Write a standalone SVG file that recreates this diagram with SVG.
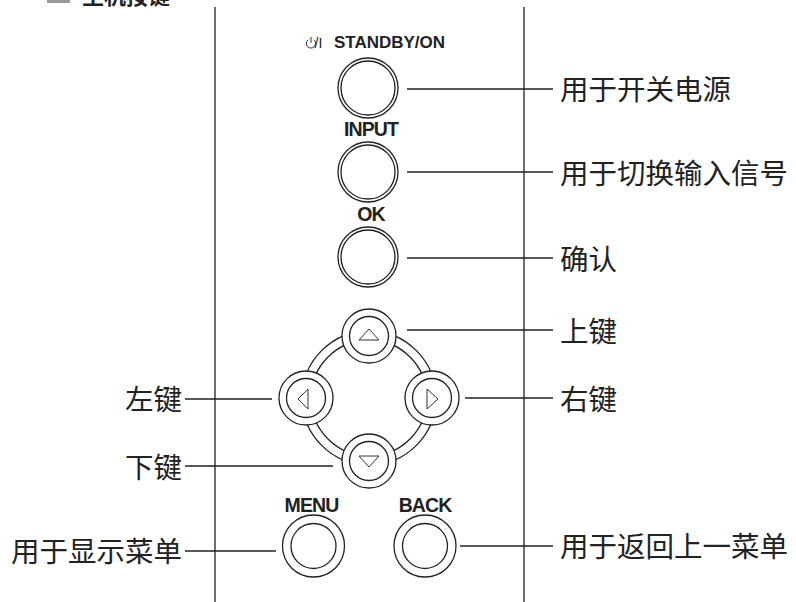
<svg xmlns="http://www.w3.org/2000/svg" width="796" height="602" viewBox="0 0 796 602">
<style>
.ln{stroke:#222;stroke-width:1.3;fill:none}
.c{stroke:#222;stroke-width:1.3;fill:#fff}
.ci{stroke:#222;stroke-width:1.3;fill:none}
.tri{stroke:#333;stroke-width:1;fill:none;stroke-linejoin:miter}
.cn{font-family:"Noto Sans CJK SC","Noto Sans",sans-serif;font-size:28.5px;fill:#222}
.en{font-family:"Liberation Sans",Arial,sans-serif;font-weight:bold;font-size:19.5px;fill:#222;text-anchor:middle;letter-spacing:-0.9px}
</style>
<rect width="796" height="602" fill="#fff"/>
<g id="heading">
<rect x="47" y="0" width="23" height="3" fill="#999"/>
<text x="82" y="4" font-family="Noto Sans CJK SC,sans-serif" font-weight="bold" font-size="22" fill="#222">主机按键</text>
</g>
<g id="panel">
<line class="ln" x1="215" y1="7" x2="215" y2="602"/>
<line class="ln" x1="524" y1="7" x2="524" y2="602"/>
</g>
<g id="connectors">
<line class="ln" x1="407" y1="89" x2="553" y2="89"/>
<line class="ln" x1="407" y1="172" x2="553" y2="172"/>
<line class="ln" x1="407" y1="258" x2="553" y2="258"/>
<line class="ln" x1="407" y1="330" x2="553" y2="330"/>
<line class="ln" x1="465" y1="398" x2="553" y2="398"/>
<line class="ln" x1="185" y1="399" x2="272" y2="399"/>
<line class="ln" x1="185" y1="466" x2="333" y2="466"/>
<line class="ln" x1="185" y1="551" x2="276" y2="551"/>
<line class="ln" x1="460" y1="546" x2="553" y2="546"/>
</g>
<g id="standby">
<path class="tri" d="M308.2 39.8 A4.6 4.6 0 1 0 313.8 39.8"/>
<line class="tri" x1="311" y1="37" x2="311" y2="43"/>
<text x="314.5" y="48" font-family="Liberation Sans,Arial,sans-serif" font-size="14" fill="#222">/I</text>
<text x="334" y="48" font-family="Liberation Sans,Arial,sans-serif" font-weight="bold" font-size="16" fill="#222" textLength="111" lengthAdjust="spacingAndGlyphs">STANDBY/ON</text>
<circle class="c" cx="368" cy="88" r="30"/>
<circle class="ci" cx="368" cy="88" r="27"/>
<text class="cn" x="560" y="100">用于开关电源</text>
</g>
<g id="input">
<text class="en" x="371" y="136">INPUT</text>
<circle class="c" cx="368" cy="172" r="30"/>
<circle class="ci" cx="368" cy="172" r="27"/>
<text class="cn" x="560" y="184">用于切换输入信号</text>
</g>
<g id="ok">
<text class="en" x="371" y="221">OK</text>
<circle class="c" cx="368" cy="257" r="30"/>
<circle class="ci" cx="368" cy="257" r="27"/>
<text class="cn" x="560" y="270">确认</text>
</g>
<g id="dpad-ring">
<circle class="ln" cx="369" cy="398" r="67" stroke-width="1.2"/>
<circle class="ln" cx="369" cy="398" r="58" stroke-width="1.2"/>
</g>
<g id="up">
<circle class="c" cx="369" cy="336" r="27"/>
<circle class="ci" cx="369" cy="336" r="19.5" stroke-width="1.5"/>
<polygon class="tri" points="369,329 359,340 379,340"/>
<text class="cn" x="560" y="342">上键</text>
</g>
<g id="left">
<circle class="c" cx="306" cy="398" r="27"/>
<circle class="ci" cx="306" cy="398" r="19.5" stroke-width="1.5"/>
<polygon class="tri" points="298,399 308,389 308,409"/>
<text class="cn" x="182" y="410" text-anchor="end">左键</text>
</g>
<g id="right">
<circle class="c" cx="432" cy="398" r="27"/>
<circle class="ci" cx="432" cy="398" r="19.5" stroke-width="1.5"/>
<polygon class="tri" points="438,399 427,389 427,409"/>
<text class="cn" x="560" y="410">右键</text>
</g>
<g id="down">
<circle class="c" cx="369" cy="461" r="27"/>
<circle class="ci" cx="369" cy="461" r="19.5" stroke-width="1.5"/>
<polygon class="tri" points="359,456 379,456 369,467"/>
<text class="cn" x="182" y="478" text-anchor="end">下键</text>
</g>
<g id="menu">
<text class="en" x="311.5" y="512">MENU</text>
<circle class="c" cx="313.5" cy="546" r="31"/>
<circle class="ci" cx="313.5" cy="546" r="22.5"/>
<text class="cn" x="182" y="562" text-anchor="end">用于显示菜单</text>
</g>
<g id="back">
<text class="en" x="425" y="512">BACK</text>
<circle class="c" cx="425" cy="546" r="31"/>
<circle class="ci" cx="425" cy="546" r="22.5"/>
<text class="cn" x="560" y="557">用于返回上一菜单</text>
</g>
</svg>
